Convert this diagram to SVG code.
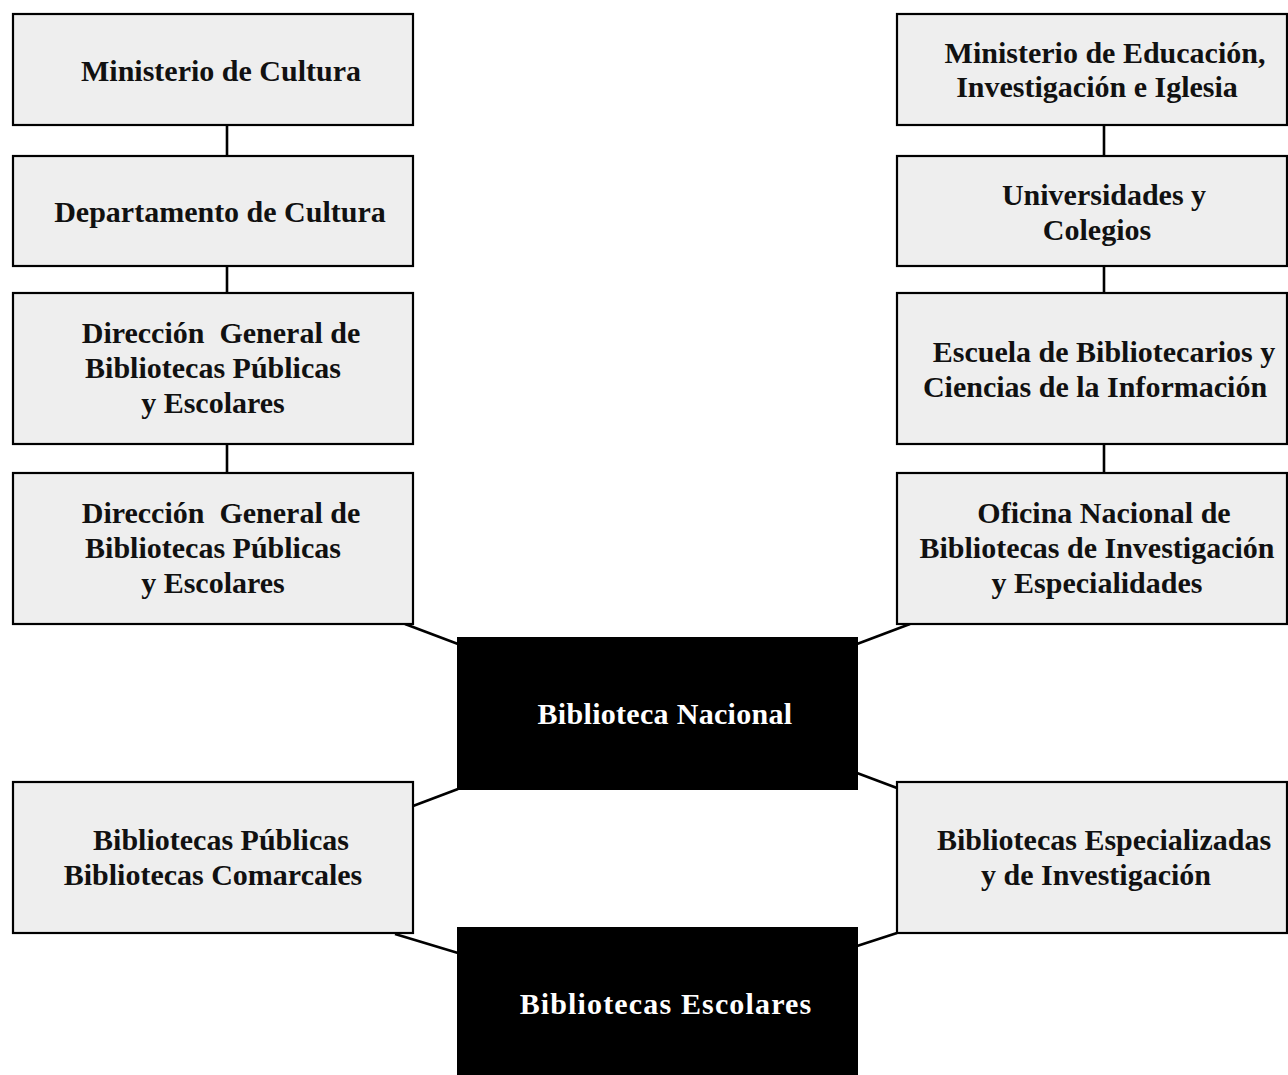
<svg xmlns="http://www.w3.org/2000/svg" width="1288" height="1075" viewBox="0 0 1288 1075">
<style>
.box{fill:#eeeeee;stroke:#000;stroke-width:2.2}
.dark{fill:#000;stroke:none}
.t{font-family:"Liberation Serif","Times New Roman",serif;font-weight:bold;font-size:30px;fill:#111;text-anchor:middle}
.w{font-family:"Liberation Serif","Times New Roman",serif;font-weight:bold;font-size:30px;fill:#fff;text-anchor:middle;letter-spacing:0.3px}
.c{stroke:#000;stroke-width:2.6;fill:none}
</style>
<rect width="1288" height="1075" fill="#fff"/>
<g id="connectors">
<line class="c" x1="227" y1="125" x2="227" y2="156"/>
<line class="c" x1="227" y1="266" x2="227" y2="293"/>
<line class="c" x1="227" y1="444" x2="227" y2="473"/>
<line class="c" x1="1104" y1="125" x2="1104" y2="156"/>
<line class="c" x1="1104" y1="266" x2="1104" y2="293"/>
<line class="c" x1="1104" y1="444" x2="1104" y2="473"/>
<line class="c" x1="405" y1="624" x2="458" y2="644"/>
<line class="c" x1="857" y1="644" x2="910" y2="624"/>
<line class="c" x1="413" y1="806" x2="458" y2="789"/>
<line class="c" x1="857" y1="773" x2="897" y2="788"/>
<line class="c" x1="395" y1="934" x2="458" y2="953"/>
<line class="c" x1="857" y1="946" x2="897" y2="933"/>
</g>
<g id="n-ministerio-cultura">
<rect class="box" x="13" y="14" width="400" height="111"/>
<text class="t" x="221" y="81">Ministerio de Cultura</text>
</g>
<g id="n-departamento-cultura">
<rect class="box" x="13" y="156" width="400" height="110"/>
<text class="t" x="220" y="222">Departamento de Cultura</text>
</g>
<g id="n-direccion-1">
<rect class="box" x="13" y="293" width="400" height="151"/>
<text class="t" x="221" y="343" xml:space="preserve">Dirección  General de</text>
<text class="t" x="213" y="378">Bibliotecas Públicas</text>
<text class="t" x="213" y="413">y Escolares</text>
</g>
<g id="n-direccion-2">
<rect class="box" x="13" y="473" width="400" height="151"/>
<text class="t" x="221" y="523" xml:space="preserve">Dirección  General de</text>
<text class="t" x="213" y="558">Bibliotecas Públicas</text>
<text class="t" x="213" y="593">y Escolares</text>
</g>
<g id="n-bibliotecas-publicas">
<rect class="box" x="13" y="782" width="400" height="151"/>
<text class="t" x="221" y="850">Bibliotecas Públicas</text>
<text class="t" x="213" y="885">Bibliotecas Comarcales</text>
</g>
<g id="n-ministerio-educacion">
<rect class="box" x="897" y="14" width="390" height="111"/>
<text class="t" x="1105" y="63">Ministerio de Educación,</text>
<text class="t" x="1097" y="97">Investigación e Iglesia</text>
</g>
<g id="n-universidades">
<rect class="box" x="897" y="156" width="390" height="110"/>
<text class="t" x="1104" y="205">Universidades y</text>
<text class="t" x="1097" y="240">Colegios</text>
</g>
<g id="n-escuela">
<rect class="box" x="897" y="293" width="390" height="151"/>
<text class="t" x="1104" y="362">Escuela de Bibliotecarios y</text>
<text class="t" x="1095" y="397">Ciencias de la Información</text>
</g>
<g id="n-oficina">
<rect class="box" x="897" y="473" width="390" height="151"/>
<text class="t" x="1104" y="523">Oficina Nacional de</text>
<text class="t" x="1097" y="558">Bibliotecas de Investigación</text>
<text class="t" x="1097" y="593">y Especialidades</text>
</g>
<g id="n-especializadas">
<rect class="box" x="897" y="782" width="390" height="151"/>
<text class="t" x="1104" y="850">Bibliotecas Especializadas</text>
<text class="t" x="1096" y="885">y de Investigación</text>
</g>
<g id="n-biblioteca-nacional">
<rect class="dark" x="457" y="637" width="401" height="153"/>
<text class="w" x="665" y="724">Biblioteca Nacional</text>
</g>
<g id="n-bibliotecas-escolares">
<rect class="dark" x="457" y="927" width="401" height="150"/>
<text class="w" x="666" y="1014" style="letter-spacing:1.15px">Bibliotecas Escolares</text>
</g>
</svg>
